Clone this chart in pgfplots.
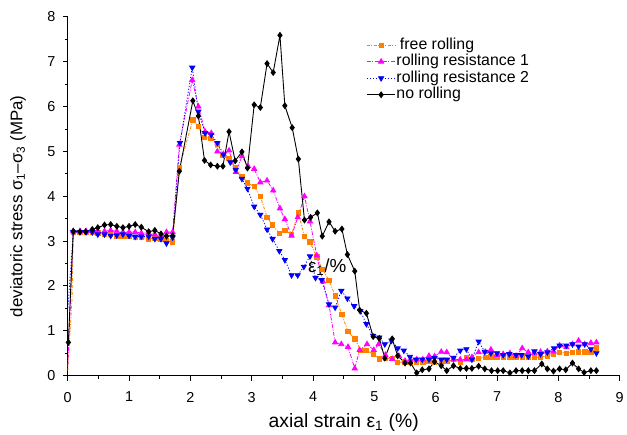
\documentclass[border=0pt]{standalone}
\usepackage{pgfplots}
\pgfplotsset{compat=1.18}
\usepackage{fontspec}
\setmainfont{Liberation Sans}
\definecolor{myorange}{RGB}{255,128,0}
\definecolor{mymag}{RGB}{255,0,255}
\definecolor{myblue}{RGB}{0,0,255}
\begin{document}
\begin{tikzpicture}
\begin{axis}[
  scale only axis, width=554bp, height=360bp,
  xmin=0, xmax=9, ymin=0, ymax=8,
  axis x line*=bottom, axis y line*=left,
  axis line style={-, line width=1.1pt},
  xtick={0,1,...,9}, ytick={0,1,...,8},
  minor x tick num=1, minor y tick num=1,
  tick align=outside, major tick length=5bp, minor tick length=3bp,
  tick style={line width=0.9pt, black},
  /pgf/number format/assume math mode=true,
  ticklabel style={font=\fontsize{14.5}{17}\selectfont},
  xticklabel style={yshift=-8bp},
  yticklabel style={xshift=-4bp},
  xlabel={axial strain ε\textsubscript{1} (\%)},
  ylabel={deviatoric stress σ\textsubscript{1}–σ\textsubscript{3} (MPa)},
  xlabel style={at={(axis description cs:0.5,0)}, anchor=center, yshift=-47bp, font=\fontsize{19.5}{22}\selectfont},
  ylabel style={at={(axis description cs:0,0.472)}, anchor=center, yshift=50bp, font=\fontsize{17}{20}\selectfont},
  legend style={at={(rel axis cs:0.541,0.945)}, anchor=north west, draw=none, fill=none,
    font=\fontsize{16}{18}\selectfont, row sep=0pt, inner sep=0pt,
    nodes={text height=11.5bp, text depth=3.5bp, inner sep=0.8bp}},
  legend cell align=left,
  legend image code/.code={\draw (0cm,0cm) -- (1cm,0cm); \draw plot[only marks] coordinates {(0.5cm,0cm)};},
]
% initial loading segments (no marks)
\addplot[forget plot, color=myorange, line width=0.8pt, dash pattern=on 3pt off 1.5pt on 1pt off 1.5pt] coordinates {(0.0,0.1) (0.07,1.72) (0.09,3.2)};
\addplot[forget plot, color=mymag, line width=0.8pt, dash pattern=on 4pt off 1.5pt on 1pt off 1.5pt] coordinates {(0.0,0.2) (0.09,3.22)};
\addplot[forget plot, color=myblue, line width=0.8pt, dash pattern=on 1.2pt off 1.8pt] coordinates {(0.0,1.45) (0.09,3.2)};
\addplot[color=myorange, line width=0.8pt, dash pattern=on 3pt off 1.5pt on 1pt off 1.5pt, mark=square*, mark size=2.2pt, mark options={solid}] coordinates {
(0.09,3.2) (0.2,3.2) (0.3,3.2) (0.4,3.2) (0.49,3.18) (0.6,3.15) (0.7,3.15) (0.8,3.12) (0.9,3.1) (1.0,3.1) (1.1,3.08) (1.2,3.08) (1.32,3.05) (1.42,3.07) (1.52,3.05) (1.61,3.02) (1.71,2.98)
(1.82,4.65) (2.04,5.70) (2.13,5.56) (2.23,5.32) (2.33,5.29) (2.44,5.16) (2.53,4.91) (2.63,4.84) (2.73,4.63) (2.84,4.45) (2.93,4.30) (3.04,4.22) (3.14,4.00) (3.25,3.53) (3.34,3.36) (3.45,3.17) (3.54,3.24) (3.65,3.15) (3.76,3.63) (3.86,3.10) (3.95,2.98)
(4.06,2.65) (4.15,2.37) (4.26,2.13) (4.36,1.78) (4.47,1.36) (4.57,0.98) (4.68,0.82) (4.78,0.56) (4.87,0.56) (4.98,0.48) (5.08,0.37) (5.18,0.38) (5.29,0.39) (5.38,0.30) (5.5,0.30) (5.59,0.30) (5.69,0.30) (5.79,0.30) (5.89,0.31) (5.98,0.30)
(6.09,0.30) (6.18,0.31) (6.29,0.36) (6.4,0.30) (6.5,0.41) (6.59,0.36) (6.7,0.38) (6.81,0.41) (6.9,0.42) (7.0,0.42) (7.1,0.42) (7.21,0.42) (7.31,0.42) (7.41,0.42) (7.51,0.40) (7.61,0.40) (7.71,0.42) (7.82,0.44) (7.92,0.48) (8.02,0.52)
(8.13,0.50) (8.23,0.52) (8.33,0.53) (8.43,0.53) (8.53,0.52) (8.62,0.62)
};
\addlegendentry{\hspace{3.5bp}free rolling}
\addplot[color=mymag, line width=0.8pt, dash pattern=on 4pt off 1.5pt on 1pt off 1.5pt, mark=triangle*, mark size=3pt, mark options={solid}] coordinates {
(0.09,3.22) (0.2,3.22) (0.3,3.22) (0.4,3.23) (0.49,3.22) (0.6,3.22) (0.7,3.24) (0.8,3.22) (0.9,3.2) (1.0,3.2) (1.1,3.2) (1.2,3.18) (1.32,3.18) (1.42,3.15) (1.52,3.12) (1.61,3.2) (1.71,3.2)
(1.82,5.15) (2.03,6.59) (2.13,6.00) (2.24,5.44) (2.34,5.41) (2.44,5.00) (2.54,4.94) (2.63,5.02) (2.74,4.54) (2.84,4.89) (2.94,4.67) (3.04,4.61) (3.14,4.31) (3.25,4.35) (3.35,4.13) (3.46,3.73) (3.54,3.49) (3.65,3.12) (3.75,3.53) (3.86,4.00) (3.95,3.44)
(4.06,2.68) (4.16,2.10) (4.26,1.57) (4.36,0.74) (4.46,0.70) (4.57,0.64) (4.68,0.16) (4.76,0.57) (4.88,0.70) (4.99,0.57) (5.07,0.70) (5.18,0.46) (5.29,0.37) (5.4,0.44) (5.5,0.33) (5.59,0.36) (5.69,0.36) (5.79,0.36) (5.89,0.44) (5.98,0.43)
(6.09,0.53) (6.18,0.52) (6.29,0.36) (6.4,0.36) (6.5,0.36) (6.59,0.41) (6.7,0.52) (6.81,0.53) (6.9,0.58) (7.0,0.46) (7.1,0.48) (7.21,0.50) (7.31,0.44) (7.41,0.61) (7.51,0.52) (7.61,0.50) (7.71,0.53) (7.82,0.54) (7.92,0.54) (8.02,0.67)
(8.13,0.63) (8.23,0.70) (8.33,0.78) (8.43,0.70) (8.53,0.73) (8.62,0.74)
};
\addlegendentry{rolling resistance 1}
\addplot[color=myblue, line width=0.8pt, dash pattern=on 1.2pt off 1.8pt, mark=triangle*, mark size=3pt, mark options={solid, rotate=180}] coordinates {
(0.09,3.2) (0.2,3.2) (0.3,3.2) (0.4,3.2) (0.49,3.15) (0.6,3.15) (0.7,3.12) (0.8,3.13) (0.9,3.15) (1.0,3.12) (1.1,3.1) (1.2,3.1) (1.32,3.1) (1.42,3.05) (1.52,3.05) (1.61,2.95) (1.71,3.08)
(1.83,5.19) (2.03,6.87) (2.13,5.89) (2.24,5.41) (2.34,5.37) (2.44,5.19) (2.54,4.93) (2.65,4.76) (2.74,4.59) (2.84,4.39) (2.93,4.17) (3.04,3.77) (3.14,3.59) (3.25,3.26) (3.34,3.05) (3.45,2.78) (3.54,2.58) (3.65,2.24) (3.75,2.24) (3.85,2.43) (3.95,2.66)
(4.04,2.18) (4.14,2.13) (4.26,1.59) (4.36,1.52) (4.46,1.89) (4.56,1.72) (4.67,1.55) (4.77,1.44) (4.87,1.15) (4.98,0.89) (5.08,0.85) (5.17,0.70) (5.28,0.78) (5.38,0.61) (5.48,0.56) (5.58,0.42) (5.68,0.36) (5.78,0.36) (5.89,0.36) (5.98,0.39)
(6.09,0.36) (6.18,0.36) (6.29,0.40) (6.4,0.56) (6.5,0.59) (6.59,0.36) (6.7,0.76) (6.8,0.53) (6.9,0.50) (7.0,0.50) (7.1,0.46) (7.2,0.48) (7.31,0.46) (7.4,0.46) (7.51,0.43) (7.61,0.54) (7.71,0.48) (7.82,0.52) (7.93,0.61) (8.02,0.67)
(8.13,0.67) (8.23,0.70) (8.33,0.65) (8.43,0.70) (8.53,0.59) (8.62,0.50)
};
\addlegendentry{rolling resistance 2}
\addplot[color=black, line width=0.9pt, mark=diamond*, mark size=2.8pt] coordinates {
(0.01,0.74) (0.09,3.22) (0.2,3.21) (0.29,3.21) (0.4,3.26) (0.49,3.30) (0.6,3.36) (0.7,3.37) (0.8,3.33) (0.9,3.30) (1.0,3.33) (1.1,3.37) (1.2,3.31) (1.32,3.21) (1.42,3.24) (1.52,3.16) (1.61,3.11) (1.71,3.12)
(1.82,4.56) (2.04,6.13) (2.13,5.79) (2.23,4.80) (2.33,4.70) (2.44,4.67) (2.53,4.67) (2.63,5.44) (2.73,4.79) (2.84,4.99) (2.93,4.63) (3.04,6.04) (3.14,5.98) (3.25,6.96) (3.35,6.76) (3.46,7.59) (3.54,6.02) (3.66,5.53) (3.76,4.83)
(3.86,3.47) (3.96,3.53) (4.07,3.63) (4.15,3.11) (4.26,3.43) (4.36,3.22) (4.47,3.27) (4.56,2.70) (4.68,2.33) (4.76,1.46) (4.87,1.39) (4.98,0.87) (5.08,0.83) (5.17,0.39) (5.29,0.82) (5.38,0.44) (5.5,0.28) (5.59,0.28) (5.69,0.06) (5.78,0.13)
(5.89,0.15) (5.98,0.31) (6.09,0.22) (6.18,0.11) (6.29,0.22) (6.4,0.16) (6.5,0.16) (6.59,0.16) (6.7,0.21) (6.8,0.15) (6.91,0.11) (7.01,0.11) (7.1,0.11) (7.21,0.06) (7.31,0.11) (7.41,0.11) (7.51,0.11) (7.61,0.11) (7.73,0.26) (7.82,0.15)
(7.92,0.10) (8.02,0.15) (8.12,0.13) (8.23,0.28) (8.33,0.15) (8.42,0.07) (8.53,0.11) (8.62,0.11)
};
\addlegendentry{no rolling}
\node[font=\fontsize{19}{22}\selectfont] at (axis cs:4.23,2.42) {ε\textsubscript{1}/\%};
\end{axis}
\path ([xshift=-68bp,yshift=-59bp]current axis.south west) rectangle ([xshift=5bp,yshift=17bp]current axis.north east);
\end{tikzpicture}
\end{document}
